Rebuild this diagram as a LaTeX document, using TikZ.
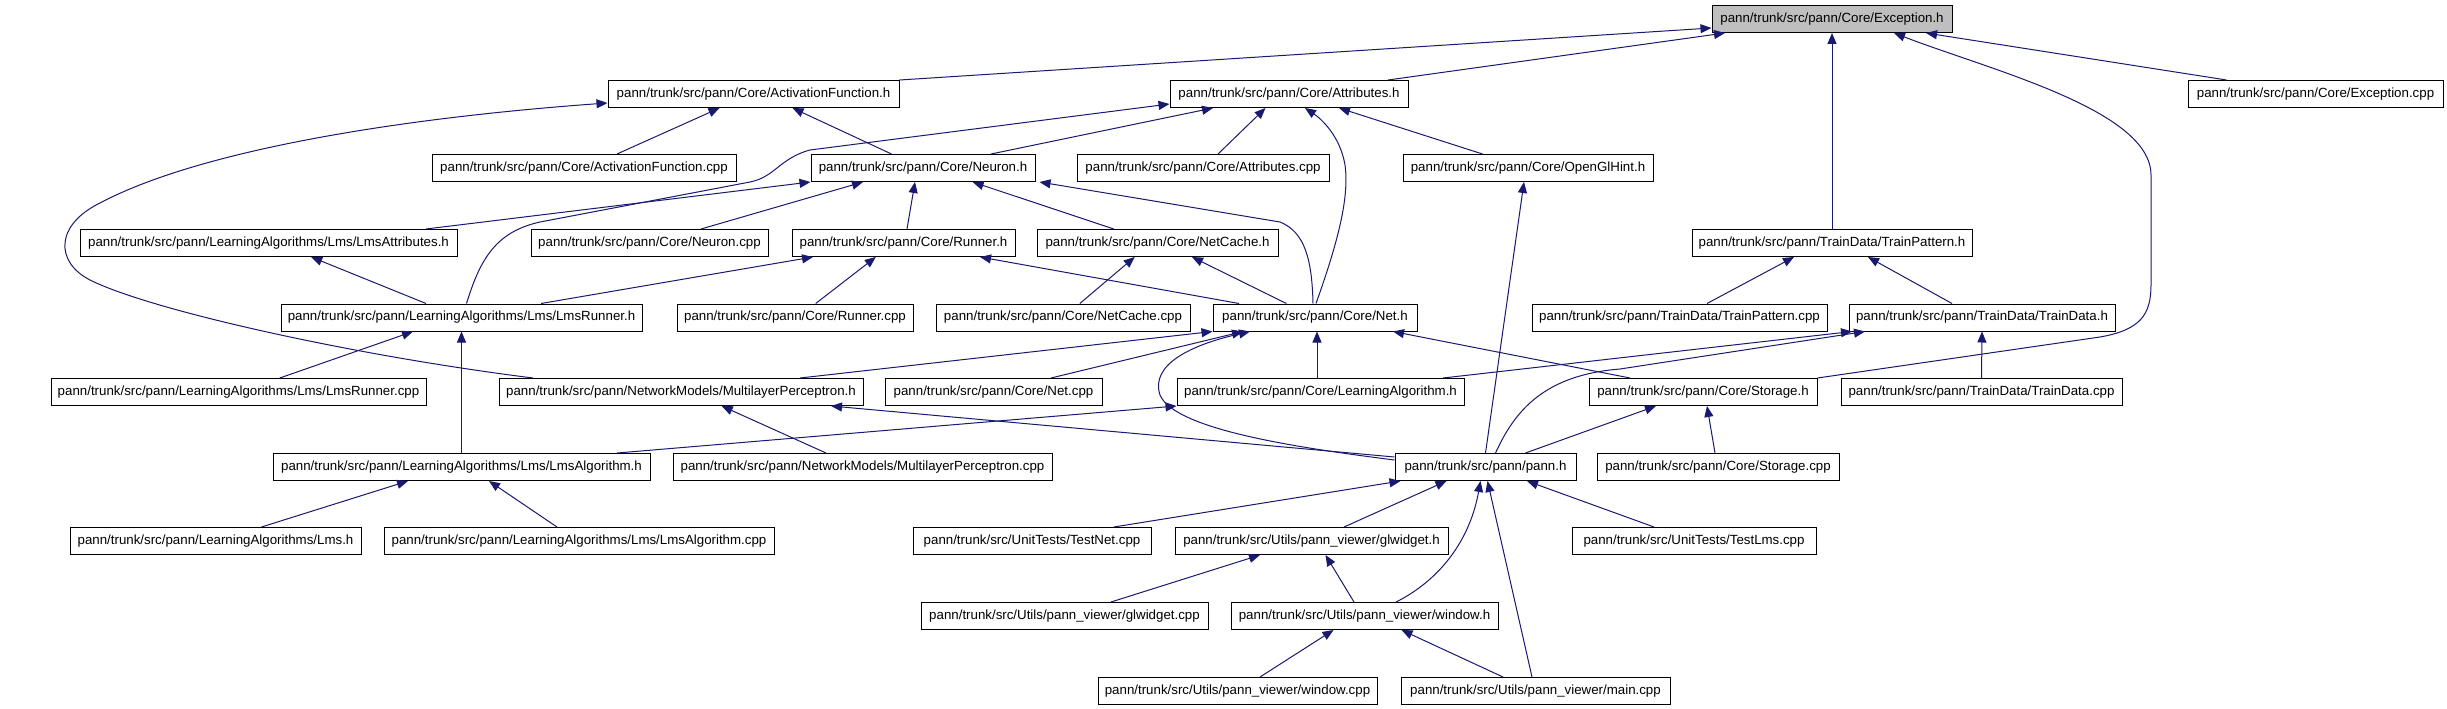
\documentclass[tikz,border=0pt]{standalone}
\usepackage{fontspec}
\setmainfont{Liberation Sans}
\usetikzlibrary{arrows.meta,calc}
\definecolor{mblue}{RGB}{25,25,112}
\definecolor{hgray}{RGB}{191,191,191}
\tikzset{
  box/.style={draw=black, line width=1pt, minimum height=27pt, inner sep=0pt, fill=white,
    font=\fontsize{13.3pt}{16pt}\selectfont},
  edge/.style={draw=mblue, line width=1pt, -{Triangle[length=11pt,width=9pt]}, fill=none}
}
\begin{document}
\begin{tikzpicture}[x=1pt,y=-1pt]
\fill[white] (0,0) rectangle (2447,709);
\useasboundingbox (0,0) rectangle (2447,709);
% row 0
\node[box, fill=hgray, minimum width=240pt] (exch) at (1832,19) {pann/trunk/src/pann/Core/Exception.h};
% row 1
\node[box, minimum width=291pt] (actf) at (753.5,94) {pann/trunk/src/pann/Core/ActivationFunction.h};
\node[box, minimum width=238pt] (attr) at (1289,94) {pann/trunk/src/pann/Core/Attributes.h};
\node[box, minimum width=255pt] (excc) at (2315.5,94) {pann/trunk/src/pann/Core/Exception.cpp};
% row 2
\node[box, minimum width=304pt] (actfc) at (584,168) {pann/trunk/src/pann/Core/ActivationFunction.cpp};
\node[box, minimum width=224pt] (neuh) at (923,168) {pann/trunk/src/pann/Core/Neuron.h};
\node[box, minimum width=252pt] (attrc) at (1203,168) {pann/trunk/src/pann/Core/Attributes.cpp};
\node[box, minimum width=250pt] (oglh) at (1528,168) {pann/trunk/src/pann/Core/OpenGlHint.h};
% row 3
\node[box, minimum width=377pt] (lmsat) at (268.5,243) {pann/trunk/src/pann/LearningAlgorithms/Lms/LmsAttributes.h};
\node[box, minimum width=237pt] (neuc) at (649.5,243) {pann/trunk/src/pann/Core/Neuron.cpp};
\node[box, minimum width=223pt] (runh) at (903.5,243) {pann/trunk/src/pann/Core/Runner.h};
\node[box, minimum width=241pt] (ncah) at (1157.5,243) {pann/trunk/src/pann/Core/NetCache.h};
\node[box, minimum width=280pt] (tph) at (1832,243) {pann/trunk/src/pann/TrainData/TrainPattern.h};
% row 4
\node[box, minimum width=361pt] (lmsrh) at (461.5,317.5) {pann/trunk/src/pann/LearningAlgorithms/Lms/LmsRunner.h};
\node[box, minimum width=236pt] (runc) at (795,317.5) {pann/trunk/src/pann/Core/Runner.cpp};
\node[box, minimum width=254pt] (ncac) at (1063,317.5) {pann/trunk/src/pann/Core/NetCache.cpp};
\node[box, minimum width=204pt] (neth) at (1315,317.5) {pann/trunk/src/pann/Core/Net.h};
\node[box, minimum width=295pt] (tpc) at (1679.5,317.5) {pann/trunk/src/pann/TrainData/TrainPattern.cpp};
\node[box, minimum width=266pt] (tdh) at (1982,317.5) {pann/trunk/src/pann/TrainData/TrainData.h};
% row 5
\node[box, minimum width=375pt] (lmsrc) at (238.5,392) {pann/trunk/src/pann/LearningAlgorithms/Lms/LmsRunner.cpp};
\node[box, minimum width=364pt] (mlph) at (681,392) {pann/trunk/src/pann/NetworkModels/MultilayerPerceptron.h};
\node[box, minimum width=217pt] (netc) at (993.5,392) {pann/trunk/src/pann/Core/Net.cpp};
\node[box, minimum width=287pt] (lah) at (1320.5,392) {pann/trunk/src/pann/Core/LearningAlgorithm.h};
\node[box, minimum width=228pt] (sth) at (1703,392) {pann/trunk/src/pann/Core/Storage.h};
\node[box, minimum width=281pt] (tdc) at (1981.5,392) {pann/trunk/src/pann/TrainData/TrainData.cpp};
% row 6
\node[box, minimum width=377pt] (lmsah) at (461.5,467) {pann/trunk/src/pann/LearningAlgorithms/Lms/LmsAlgorithm.h};
\node[box, minimum width=379pt] (mlpc) at (862.5,467) {pann/trunk/src/pann/NetworkModels/MultilayerPerceptron.cpp};
\node[box, minimum width=181pt] (pannh) at (1485.5,467) {pann/trunk/src/pann/pann.h};
\node[box, minimum width=242pt] (stc) at (1718,467) {pann/trunk/src/pann/Core/Storage.cpp};
% row 7
\node[box, minimum width=291pt] (lmsh) at (215.5,541) {pann/trunk/src/pann/LearningAlgorithms/Lms.h};
\node[box, minimum width=390pt] (lmsac) at (579,541) {pann/trunk/src/pann/LearningAlgorithms/Lms/LmsAlgorithm.cpp};
\node[box, minimum width=238pt] (tnc) at (1032,541) {pann/trunk/src/UnitTests/TestNet.cpp};
\node[box, minimum width=273pt] (glh) at (1311.5,541) {pann/trunk/src/Utils/pann\_viewer/glwidget.h};
\node[box, minimum width=244pt] (tlc) at (1694,541) {pann/trunk/src/UnitTests/TestLms.cpp};
% row 8
\node[box, minimum width=287pt] (glc) at (1064.5,616) {pann/trunk/src/Utils/pann\_viewer/glwidget.cpp};
\node[box, minimum width=267pt] (winh) at (1364.5,616) {pann/trunk/src/Utils/pann\_viewer/window.h};
% row 9
\node[box, minimum width=279pt] (winc) at (1237.5,691) {pann/trunk/src/Utils/pann\_viewer/window.cpp};
\node[box, minimum width=269pt] (mainc) at (1535.5,691) {pann/trunk/src/Utils/pann\_viewer/main.cpp};

% edges to Exception.h
\draw[edge] (actf.north east) -- ($(exch.west)+(0,9)$);
\draw[edge] ($(attr.north)+(99,0)$) -- ($(exch.south)+(-107,0)$);
\draw[edge] (tph.north) -- (exch.south);
\draw[edge] (sth.north east) -- (2100,337) .. controls (2140,330) and (2151,315) .. (2151,285) -- (2151,175) .. controls (2151,110) and (1990,70) .. ($(exch.south)+(62,0)$);
\draw[edge] ($(excc.north)+(-89,0)$) -- ($(exch.south)+(94,0)$);
% edges to ActivationFunction.h
\draw[edge] ($(actfc.north)+(33,0)$) -- ($(actf.south)+(-34,0)$);
\draw[edge] ($(neuh.north)+(-31.5,0)$) -- ($(actf.south)+(39,0)$);
\draw[edge] ($(mlph.north)+(-148,0)$) .. controls (350,355) and (150,310) .. (90,280) .. controls (55,262) and (55,225) .. (100,203) .. controls (200,150) and (400,118) .. ($(actf.west)+(0,9)$);
% edges to Attributes.h
\draw[edge] ($(neuh.north)+(68,0)$) -- ($(attr.south)+(-76,0)$);
\draw[edge] ($(attrc.north)+(15,0)$) -- ($(attr.south)+(-23.5,0)$);
\draw[edge] ($(oglh.north)+(-45.5,0)$) -- ($(attr.south)+(50,0)$);
\draw[edge] ($(neth.north)+(1,0)$) .. controls (1335,250) and (1350,200) .. (1345,165) .. controls (1340,135) and (1320,118) .. ($(attr.south)+(16,0)$);
\draw[edge] ($(lmsrh.north)+(5,0)$) .. controls (480,260) and (495,232) .. (540,222) -- (750,182) .. controls (775,177) and (780,158) .. (810,150) -- ($(attr.west)+(0,10)$);
% edges to Neuron.h
\draw[edge] ($(lmsat.north)+(157.5,0)$) -- (neuh.south west);
\draw[edge] ($(neuc.north)+(51.5,0)$) -- ($(neuh.south)+(-60,0)$);
\draw[edge] ($(runh.north)+(3.5,0)$) -- ($(neuh.south)+(-8,0)$);
\draw[edge] ($(ncah.north)+(-43.7,0)$) -- ($(neuh.south)+(49.6,0)$);
\draw[edge] ($(neth.north)+(-2,0)$) .. controls (1312,260) and (1305,232) .. (1280,222) -- ($(neuh.south east)+(4,0)$);
% edges to OpenGlHint.h
\draw[edge] (pannh.north) -- ($(oglh.south)+(-4,0)$);
% edges to LmsAttributes.h
\draw[edge] ($(lmsrh.north)+(-35.5,0)$) -- ($(lmsat.south)+(42.7,0)$);
% edges to Runner.h
\draw[edge] ($(lmsrh.north)+(79.5,0)$) -- ($(runh.south)+(-90.5,0)$);
\draw[edge] ($(runc.north)+(20.7,0)$) -- ($(runh.south)+(-27.7,0)$);
\draw[edge] ($(neth.north)+(-76,0)$) -- ($(runh.south)+(76.5,0)$);
% edges to NetCache.h
\draw[edge] ($(ncac.north)+(16.8,0)$) -- ($(ncah.south)+(-22.8,0)$);
\draw[edge] ($(neth.north)+(-28.6,0)$) -- ($(ncah.south)+(34.5,0)$);
% edges to TrainPattern.h
\draw[edge] ($(tpc.north)+(27.5,0)$) -- ($(tph.south)+(-38,0)$);
\draw[edge] ($(tdh.north)+(-30,0)$) -- ($(tph.south)+(36,0)$);
% edges to LmsRunner.h
\draw[edge] ($(lmsrc.north)+(41.3,0)$) -- ($(lmsrh.south)+(-48.5,0)$);
\draw[edge] (lmsah.north) -- (lmsrh.south);
% edges to Net.h
\draw[edge] ($(mlph.north)+(119,0)$) -- (neth.south west);
\draw[edge] ($(netc.north)+(57.5,0)$) -- ($(neth.south)+(-72,0)$);
\draw[edge] ($(pannh.west)+(0,-7)$) .. controls (1300,448) and (1175,430) .. (1160,395) .. controls (1150,365) and (1190,345) .. ($(neth.south)+(-65,0)$);
\draw[edge] ($(lah.north)+(-3.5,0)$) -- ($(neth.south)+(2,0)$);
\draw[edge] ($(sth.north)+(-73,0)$) -- ($(neth.south)+(78,0)$);
% edges to TrainData.h
\draw[edge] ($(lah.north)+(122.5,0)$) -- ($(tdh.south)+(-130,0)$);
\draw[edge] ($(pannh.north)+(10,0)$) .. controls (1515,410) and (1545,375) .. (1620,369) -- ($(tdh.south)+(-117,0)$);
\draw[edge] (tdc.north) -- (tdh.south);
% edges to MultilayerPerceptron.h
\draw[edge] ($(pannh.west)+(0,-10)$) -- ($(mlph.south)+(150,0)$);
\draw[edge] ($(mlpc.north)+(-36.5,0)$) -- ($(mlph.south)+(40.7,0)$);
% edges to LearningAlgorithm.h
\draw[edge] ($(lmsah.north)+(155.5,0)$) -- (lah.south west);
% edges to Storage.h
\draw[edge] ($(pannh.north)+(40,0)$) -- ($(sth.south)+(-47,0)$);
\draw[edge] ($(stc.north)+(-3,0)$) -- ($(sth.south)+(4,0)$);
% edges to LmsAlgorithm.h
\draw[edge] ($(lmsh.north)+(46,0)$) -- ($(lmsah.south)+(-53.5,0)$);
\draw[edge] ($(lmsac.north)+(-22,0)$) -- ($(lmsah.south)+(27.5,0)$);
% edges to pann.h
\draw[edge] ($(tnc.north)+(81.8,0)$) -- ($(pannh.south west)+(6,0)$);
\draw[edge] ($(glh.north)+(32.5,0)$) -- ($(pannh.south)+(-39,0)$);
\draw[edge] ($(winh.north)+(31.5,0)$) .. controls (1440,580) and (1470,540) .. ($(pannh.south)+(-5,0)$);
\draw[edge] ($(mainc.north)+(-3.5,0)$) -- ($(pannh.south)+(2,0)$);
\draw[edge] ($(tlc.north)+(-40,0)$) -- ($(pannh.south)+(41.5,0)$);
% edges to glwidget.h
\draw[edge] ($(glc.north)+(46.5,0)$) -- ($(glh.south)+(-51.5,0)$);
\draw[edge] ($(winh.north)+(-10.5,0)$) -- ($(glh.south)+(14,0)$);
% edges to window.h
\draw[edge] ($(winc.north)+(22.5,0)$) -- ($(winh.south)+(-31,0)$);
\draw[edge] ($(mainc.north)+(-32.5,0)$) -- ($(winh.south)+(37,0)$);
\end{tikzpicture}
\end{document}
